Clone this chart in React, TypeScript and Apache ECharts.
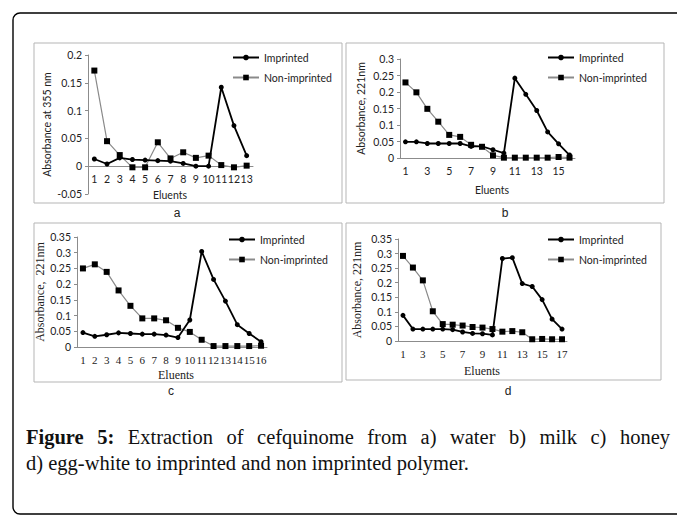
import React, { useEffect, useRef } from "react";
import * as echarts from "echarts";

// ---------- data ----------
const CATS_A = ["1", "2", "3", "4", "5", "6", "7", "8", "9", "10", "11", "12", "13"];
const IMP_A = [0.013, 0.004, 0.015, 0.012, 0.011, 0.01, 0.009, 0.005, 0, 0, 0.142, 0.073, 0.019];
const NON_A = [0.172, 0.045, 0.02, -0.002, -0.002, 0.043, 0.014, 0.025, 0.015, 0.019, 0.002, -0.002, 0.001];

const CATS_B = ["1", "2", "3", "4", "5", "6", "7", "8", "9", "10", "11", "12", "13", "14", "15", "16"];
const IMP_B = [0.049, 0.049, 0.044, 0.044, 0.044, 0.044, 0.035, 0.035, 0.025, 0.015, 0.242, 0.193, 0.144, 0.079, 0.043, 0.009];
const NON_B = [0.229, 0.199, 0.149, 0.11, 0.07, 0.064, 0.04, 0.034, 0.008, 0.001, 0.001, 0.001, 0.001, 0.001, 0.003, 0.001];

const CATS_C = ["1", "2", "3", "4", "5", "6", "7", "8", "9", "10", "11", "12", "13", "14", "15", "16"];
const IMP_C = [0.046, 0.034, 0.039, 0.045, 0.043, 0.041, 0.041, 0.038, 0.03, 0.086, 0.304, 0.215, 0.146, 0.071, 0.043, 0.017];
const NON_C = [0.25, 0.263, 0.239, 0.18, 0.131, 0.091, 0.091, 0.085, 0.061, 0.048, 0.023, 0.003, 0.003, 0.003, 0.003, 0.004];

const CATS_D = ["1", "2", "3", "4", "5", "6", "7", "8", "9", "10", "11", "12", "13", "14", "15", "16", "17"];
const IMP_D = [0.088, 0.041, 0.041, 0.041, 0.041, 0.039, 0.031, 0.026, 0.025, 0.021, 0.283, 0.286, 0.197, 0.187, 0.142, 0.075, 0.041];
const NON_D = [0.292, 0.252, 0.208, 0.102, 0.058, 0.056, 0.053, 0.048, 0.046, 0.041, 0.032, 0.034, 0.03, 0.006, 0.007, 0.006, 0.006];

const Y_TITLES = ["Absorbance at 355 nm", "Absorbance, 221nm", "Absorbance,  221nm", "Absorbance, 221nm"];
const X_TITLE = "Eluents";
const PANEL_LABELS = ["a", "b", "c", "d"];
const SERIES_NAMES = ["Imprinted", "Non-imprinted"];
const CAPTION_BOLD_WORDS = ["Figure", "5:"];
const CAPTION_1_WORDS = ["Extraction", "of", "cefquinome", "from", "a)", "water", "b)", "milk", "c)", "honey"];
const CAPTION_2 = "d) egg-white to imprinted and non imprinted polymer.";

const SANS = "Lato, 'Liberation Sans', sans-serif";
const SERIF = "'Liberation Serif', serif";
const CAP_FONT = "'Liberation Serif', serif";
const CAP_SIZE = 20.5;

export default function App() {
  const ref = useRef<HTMLDivElement>(null);

  useEffect(() => {
    if (!ref.current) return;
    const chart = echarts.init(ref.current, null, { renderer: "svg" });

    const grids = [
      { left: 88, top: 55, width: 165, height: 139 },
      { left: 400, top: 59, width: 175, height: 99 },
      { left: 77, top: 237, width: 190, height: 110 },
      { left: 398, top: 239, width: 169, height: 102 },
    ];
    const cats = [CATS_A, CATS_B, CATS_C, CATS_D];
    const imps = [IMP_A, IMP_B, IMP_C, IMP_D];
    const nons = [NON_A, NON_B, NON_C, NON_D];
    const yRanges = [
      [-0.05, 0.2],
      [0, 0.3],
      [0, 0.35],
      [0, 0.35],
    ];
    const labelIntervals = [0, 1, 0, 1];
    const serifPanel = [false, false, true, true];
    const yNameGaps = [36, 34, 22, 35];
    // panel a: x axis sits at y = 0 (grid bottom is at -0.05)
    const xOffsets = [-28, 0, 0, 0];

    const xAxes = grids.map((_, i) => ({
      type: "category",
      gridIndex: i,
      data: cats[i],
      boundaryGap: true,
      offset: xOffsets[i],
      axisLine: { show: true, onZero: false, lineStyle: { color: "#8c8c8c", width: 1 } },
      axisTick: { show: false },
      axisLabel: {
        interval: labelIntervals[i],
        color: "#222",
        fontSize: serifPanel[i] ? 11 : 10.5,
        fontFamily: serifPanel[i] ? SERIF : SANS,
        margin: 7,
      },
      splitLine: { show: false },
    }));

    const yAxes = grids.map((_, i) => ({
      type: "value",
      gridIndex: i,
      min: yRanges[i][0],
      max: yRanges[i][1],
      interval: 0.05,
      axisLine: { show: true, lineStyle: { color: "#8c8c8c", width: 1 } },
      axisTick: { show: true, length: 3, lineStyle: { color: "#8c8c8c" } },
      axisLabel: { color: "#222", fontSize: 10.5, fontFamily: SANS, margin: 6 },
      splitLine: { show: false },
      name: Y_TITLES[i],
      nameLocation: "middle",
      nameGap: yNameGaps[i],
      nameTextStyle: {
        color: "#222",
        fontSize: serifPanel[i] ? 12 : 10.5,
        fontFamily: serifPanel[i] ? SERIF : SANS,
      },
    }));

    const series: any[] = [];
    grids.forEach((_, i) => {
      series.push({
        name: SERIES_NAMES[0],
        type: "line",
        xAxisIndex: i,
        yAxisIndex: i,
        data: imps[i],
        symbol: "circle",
        symbolSize: 5,
        lineStyle: { color: "#000", width: 1.8 },
        itemStyle: { color: "#000" },
        z: 3,
      });
      series.push({
        name: SERIES_NAMES[1],
        type: "line",
        xAxisIndex: i,
        yAxisIndex: i,
        data: nons[i],
        symbol: "rect",
        symbolSize: 6,
        lineStyle: { color: "#8a8a8a", width: 1.2 },
        itemStyle: { color: "#000" },
        z: 2,
      });
    });

    const legendPos = [
      { left: 232, top: 52 },
      { left: 547, top: 52 },
      { left: 228, top: 234 },
      { left: 547, top: 234 },
    ];
    const legends = legendPos.map((p) => ({
      ...p,
      orient: "vertical",
      padding: 0,
      itemWidth: 26,
      itemHeight: 7,
      itemGap: 9,
      data: SERIES_NAMES,
      textStyle: { color: "#222", fontSize: 10.5, fontFamily: SANS },
      selectedMode: false,
    }));

    const panelBoxes = [
      { x: 34, y: 43, w: 308, h: 160 },
      { x: 346, y: 43, w: 318, h: 160 },
      { x: 34, y: 223, w: 308, h: 159 },
      { x: 346, y: 223, w: 315, h: 157 },
    ];
    const panelLabelPos = [
      [177, 213],
      [505, 213],
      [171, 391],
      [508, 391],
    ];
    const xTitlePos = [
      [170, 195],
      [492, 190],
      [176, 375],
      [482, 371],
    ];

    const graphic: any[] = [
      {
        type: "rect",
        shape: { x: 13, y: 13, width: 720, height: 501, r: 7 },
        style: { fill: "none", stroke: "#000", lineWidth: 1.4 },
        silent: true,
      },
    ];
    panelBoxes.forEach((b) =>
      graphic.push({
        type: "rect",
        shape: { x: b.x, y: b.y, width: b.w, height: b.h },
        style: { fill: "none", stroke: "#b5b5b5", lineWidth: 1 },
        silent: true,
      })
    );
    panelLabelPos.forEach((p, i) =>
      graphic.push({
        type: "text",
        x: p[0],
        y: p[1],
        style: {
          text: PANEL_LABELS[i],
          fill: "#222",
          font: "12px 'Liberation Sans', sans-serif",
          textAlign: "center",
          textVerticalAlign: "middle",
        },
        silent: true,
      })
    );
    xTitlePos.forEach((p, i) =>
      graphic.push({
        type: "text",
        x: p[0],
        y: p[1],
        style: {
          text: X_TITLE,
          fill: "#222",
          font: serifPanel[i] ? "12px " + SERIF : "10.5px " + SANS,
          textAlign: "center",
          textVerticalAlign: "middle",
        },
        silent: true,
      })
    );

    // justified first caption line
    const boldFont = "bold " + CAP_SIZE + "px " + CAP_FONT;
    const normFont = CAP_SIZE + "px " + CAP_FONT;
    const words = [
      ...CAPTION_BOLD_WORDS.map((w) => ({ w, font: boldFont })),
      ...CAPTION_1_WORDS.map((w) => ({ w, font: normFont })),
    ];
    const ctx = document.createElement("canvas").getContext("2d") as CanvasRenderingContext2D;
    const widths = words.map((o) => {
      ctx.font = o.font;
      return ctx.measureText(o.w).width;
    });
    const lineLeft = 26;
    const lineRight = 670;
    const total = widths.reduce((s, v) => s + v, 0);
    const gap = (lineRight - lineLeft - total) / (words.length - 1);
    let cx = lineLeft;
    words.forEach((o, k) => {
      graphic.push({
        type: "text",
        x: cx,
        y: 437,
        style: { text: o.w, fill: "#111", font: o.font, textVerticalAlign: "middle" },
        silent: true,
      });
      cx += widths[k] + gap;
    });
    graphic.push({
      type: "text",
      x: 26,
      y: 463,
      style: {
        text: CAPTION_2,
        fill: "#111",
        font: normFont,
        textVerticalAlign: "middle",
      },
      silent: true,
    });

    chart.setOption({
      animation: false,
      backgroundColor: "#fff",
      grid: grids.map((g) => ({ ...g, containLabel: false })),
      xAxis: xAxes,
      yAxis: yAxes,
      legend: legends,
      series,
      graphic,
    });

    return () => chart.dispose();
  }, []);

  return (
    <div
      ref={ref}
      style={{ position: "fixed", left: 0, top: 0, width: 677, height: 515, background: "#fff" }}
    />
  );
}
